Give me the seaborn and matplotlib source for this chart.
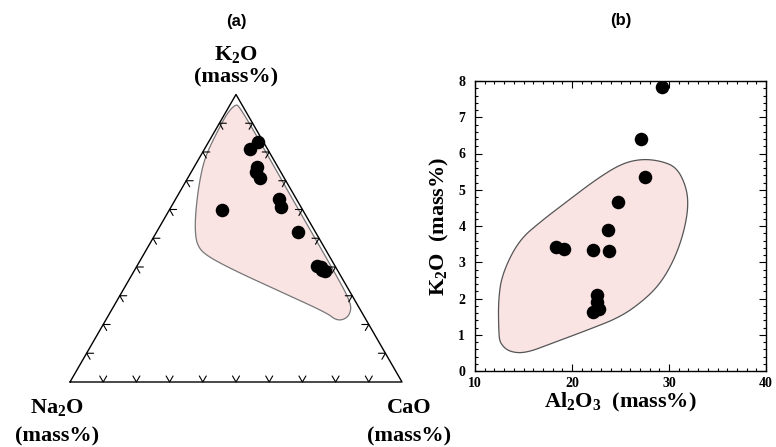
import matplotlib.pyplot as plt
import numpy as np
import pandas as pd
import seaborn as sns
from matplotlib.ticker import MultipleLocator

sns.set_theme(style="white")
plt.rcParams.update({
    "font.family": ["Liberation Serif", "DejaVu Serif"],
    "font.weight": "bold",
    "text.color": "black",
    "axes.labelcolor": "black",
    "xtick.color": "black",
    "ytick.color": "black",
    "mathtext.fontset": "custom",
    "mathtext.rm": "Liberation Serif:bold",
    "mathtext.it": "Liberation Serif:bold:italic",
    "mathtext.bf": "Liberation Serif:bold",
    "mathtext.default": "bf",
})

# (a) ternary compositions, mass%
tern_k2o = [83.5, 81.0, 74.8, 73.0, 71.0, 63.7, 60.9, 59.8, 52.2, 40.3, 39.0, 38.6, 40.0]
tern_cao = [14.9, 13.7, 18.9, 19.5, 21.8, 31.1, 33.1, 15.9, 42.6, 54.2, 56.4, 57.5, 55.5]

# (a) shaded field outline (K2O, CaO), mass%
tern_field_k2o = [96.5, 96.0, 80.0, 60.0, 40.0, 27.5, 23.5, 21.6, 21.6, 24.0,
                  31.0, 39.0, 44.2, 47.7, 52.9, 59.8, 69.2, 78.3, 87.6, 93.5]
tern_field_cao = [1.5, 3.0, 19.0, 38.8, 58.8, 71.0, 72.6, 71.6, 69.2, 65.4,
                  48.7, 29.6, 18.6, 14.4, 11.2, 8.0, 4.3, 1.5, 0.8, 0.6]

# (b) Al2O3 vs K2O, mass%
al2o3 = [29.3, 27.1, 27.5, 24.7, 23.7, 18.4, 19.2, 22.2, 23.8, 22.6, 22.2, 22.8, 22.6]
k2o = [7.84, 6.40, 5.36, 4.66, 3.90, 3.42, 3.37, 3.35, 3.31, 2.09, 1.63, 1.72, 1.90]

# (b) shaded field outline
field_al2o3 = [12.45, 12.4, 12.8, 14.5, 16.9, 19.6, 22.3, 25.0, 27.1, 29.1, 30.8, 31.8,
               32.0, 31.5, 30.5, 29.1, 27.4, 25.0, 21.6, 17.9, 15.2, 13.5, 12.6]
field_k2o = [1.03, 1.95, 2.68, 3.6, 4.15, 4.7, 5.25, 5.71, 5.85, 5.8, 5.62, 5.07,
             4.52, 3.79, 3.05, 2.41, 1.95, 1.49, 1.13, 0.76, 0.49, 0.53, 0.76]

FIELD_COLOR = "#f9e3e3"
H = np.sqrt(3) / 2


def to_xy(k, ca):
    k = np.asarray(k) / 100.0
    ca = np.asarray(ca) / 100.0
    return ca + 0.5 * k, H * k


def smooth(x, y, n=3):
    # chaikin corner cutting on a closed outline
    pts = np.column_stack([x, y])
    for _ in range(n):
        nxt = np.roll(pts, -1, axis=0)
        q = 0.75 * pts + 0.25 * nxt
        r = 0.25 * pts + 0.75 * nxt
        pts = np.empty((2 * len(q), 2))
        pts[0::2] = q
        pts[1::2] = r
    return pts[:, 0], pts[:, 1]


fig = plt.figure(figsize=(7.76, 4.47), dpi=100)

# ---- (a) ternary
ax1 = fig.add_axes([0, 0, 420 / 776, 1])
ax1.set_xlim(-70 / 332, 350 / 332)
ax1.set_ylim(-65 / 332, 382 / 332)
ax1.axis("off")

fx, fy = smooth(*to_xy(tern_field_k2o, tern_field_cao))
ax1.fill(fx, fy, facecolor=FIELD_COLOR, edgecolor="#777777", lw=0.9, zorder=1)

ax1.plot([0, 1, 0.5, 0], [0, 0, H, 0], color="black", lw=1.0, zorder=2)
L = 0.021
for i in range(1, 10):
    f = i / 10
    # bottom edge
    ax1.plot([f - 0.5 * L, f, f + 0.5 * L], [H * L, 0, H * L], color="black", lw=0.8)
    # left edge
    px, py = 0.5 * f, H * f
    ax1.plot([px + L, px, px + 0.5 * L], [py, py, py - H * L], color="black", lw=0.8)
    # right edge
    px = 1 - 0.5 * f
    ax1.plot([px - L, px, px - 0.5 * L], [py, py, py - H * L], color="black", lw=0.8)

tx, ty = to_xy(tern_k2o, tern_cao)
sns.scatterplot(x=tx, y=ty, ax=ax1, color="black", s=95, linewidth=0, zorder=3)

lab = dict(ha="center", va="center", fontsize=16, fontweight="bold")
ax1.text(0.5, 1.087, "(a)", ha="center", va="center", fontsize=12,
         fontweight="bold", family=["Liberation Sans", "DejaVu Sans"])
ax1.text(0.5, 0.985, "K$_2$O", **lab)
ax1.text(0.5, 0.916, "(mass%)", **lab)
ax1.text(-0.039, -0.078, "Na$_2$O", **lab)
ax1.text(-0.039, -0.163, "(mass%)", **lab)
ax1.text(1.021, -0.078, "CaO", **lab)
ax1.text(1.021, -0.163, "(mass%)", **lab)

# ---- (b) Al2O3 vs K2O
ax2 = fig.add_axes([475 / 776, (447 - 371) / 447, 291 / 776, 290 / 447])
gx, gy = smooth(field_al2o3, field_k2o)
ax2.fill(gx, gy, facecolor=FIELD_COLOR, edgecolor="#555555", lw=0.9, zorder=1)

df = pd.DataFrame({"Al2O3": al2o3, "K2O": k2o})
sns.scatterplot(data=df, x="Al2O3", y="K2O", ax=ax2, color="black", s=95,
                linewidth=0, zorder=3)

ax2.set_xlim(10, 40)
ax2.set_ylim(0, 8)
ax2.set_xticks([10, 20, 30, 40])
ax2.set_yticks(range(0, 9))
ax2.xaxis.set_minor_locator(MultipleLocator(1))
ax2.yaxis.set_minor_locator(MultipleLocator(0.2))
ax2.tick_params(which="both", direction="in", top=True, right=True,
                bottom=True, left=True, width=0.8, color="black")
ax2.tick_params(which="major", length=5, labelsize=10)
ax2.tick_params(which="minor", length=2.5)
ax2.tick_params(axis="y", pad=7)
ax2.tick_params(axis="x", pad=4)
for lbl in ax2.get_xticklabels() + ax2.get_yticklabels():
    lbl.set_fontweight("bold")
for s in ax2.spines.values():
    s.set_edgecolor("black")
    s.set_linewidth(1.0)

ax2.set_xlabel("Al$_2$O$_3$  (mass%)", fontsize=16, fontweight="bold", labelpad=1)
ax2.set_ylabel("K$_2$O  (mass%)", fontsize=16, fontweight="bold", labelpad=5)
fig.text(621 / 776, 1 - 21 / 447, "(b)", ha="center", va="center", fontsize=12,
         fontweight="bold", family=["Liberation Sans", "DejaVu Sans"])

fig.savefig("out.png", dpi=100, facecolor="white")
